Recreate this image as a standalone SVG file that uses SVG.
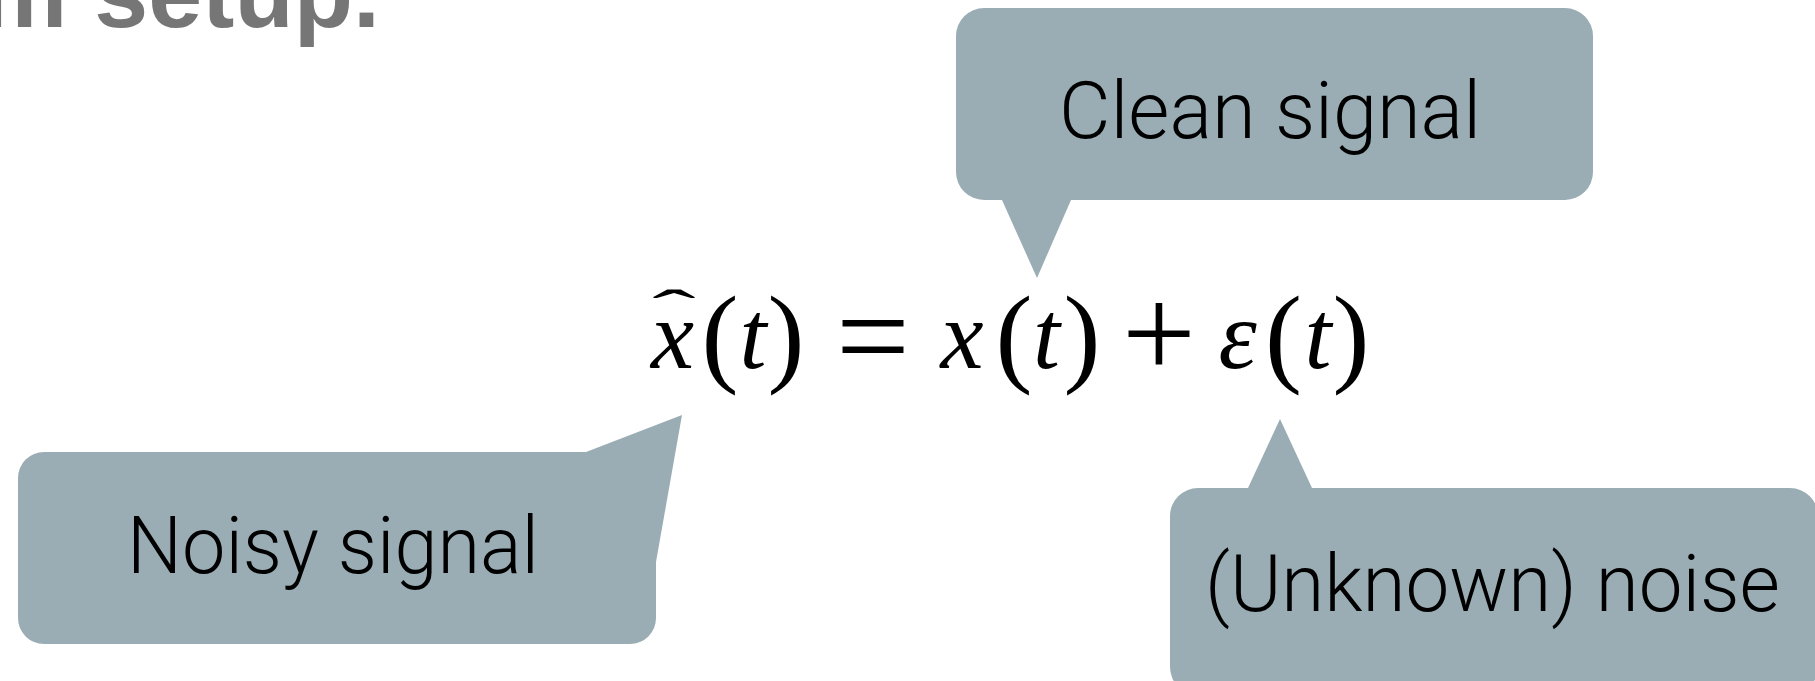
<svg xmlns="http://www.w3.org/2000/svg" width="1815" height="681" viewBox="0 0 1815 681">
<style>
.bubble { fill: #9AADB4; }
.label { font-family: Roboto, 'Liberation Sans', sans-serif; font-weight: 300; font-size: 80px; fill: #000; text-anchor: middle; }
.title { font-family: 'Liberation Sans', Arial, sans-serif; font-weight: bold; font-size: 97px; fill: #767676; }
.mi { font-family: 'Liberation Serif', serif; font-style: italic; font-size: 97px; text-anchor: middle; fill: #000; }
.mo { font-family: 'Liberation Serif', serif; text-anchor: middle; fill: #000; }
.paren { font-size: 111px; }
.op { font-size: 131px; }
</style>
<rect width="1815" height="681" fill="#fff"/>
<g id="title">
  <text class="title" x="-19" y="27">m setup.</text>
</g>
<g id="connectors"></g>
<g id="clean-signal">
  <path class="bubble" d="M 984,8 H 1565 A 28 28 0 0 1 1593 36 V 172 A 28 28 0 0 1 1565 200 H 1071 L 1037 278 L 1002 200 H 984 A 28 28 0 0 1 956 172 V 36 A 28 28 0 0 1 984 8 Z"/>
  <text class="label" x="1270" y="138" textLength="422" lengthAdjust="spacingAndGlyphs">Clean signal</text>
</g>
<g id="noisy-signal">
  <path class="bubble" d="M 44,452 H 586 L 682 415 L 656 562 V 618 A 26 26 0 0 1 630 644 H 44 A 26 26 0 0 1 18 618 V 478 A 26 26 0 0 1 44 452 Z"/>
  <text class="label" x="333" y="573" textLength="412" lengthAdjust="spacingAndGlyphs">Noisy signal</text>
</g>
<g id="unknown-noise">
  <path class="bubble" d="M 1198,488 H 1248 L 1280 419 L 1312 488 H 1790 A 28 28 0 0 1 1818 516 V 667 A 28 28 0 0 1 1790 695 H 1198 A 28 28 0 0 1 1170 667 V 516 A 28 28 0 0 1 1198 488 Z"/>
  <text class="label" x="1492.5" y="611" textLength="575" lengthAdjust="spacingAndGlyphs">(Unknown) noise</text>
</g>
<g id="equation">
  <text class="mi" x="672.5" y="368">x</text>
  <text class="mo" font-size="62" transform="translate(674,328) scale(2.1,0.9)" x="0" y="0">ˆ</text>
  <text class="mo paren" x="720" y="372">(</text>
  <text class="mi" x="753" y="368">t</text>
  <text class="mo paren" x="786" y="372">)</text>
  <text class="mo op" x="873" y="380">=</text>
  <text class="mi" x="962" y="368">x</text>
  <text class="mo paren" x="1014" y="372">(</text>
  <text class="mi" x="1046.5" y="368">t</text>
  <text class="mo paren" x="1082" y="372">)</text>
  <text class="mo op" x="1159" y="377">+</text>
  <text class="mi" x="1237.5" y="368">ε</text>
  <text class="mo paren" x="1283.5" y="372">(</text>
  <text class="mi" x="1318" y="368">t</text>
  <text class="mo paren" x="1351" y="372">)</text>
</g>
</svg>
